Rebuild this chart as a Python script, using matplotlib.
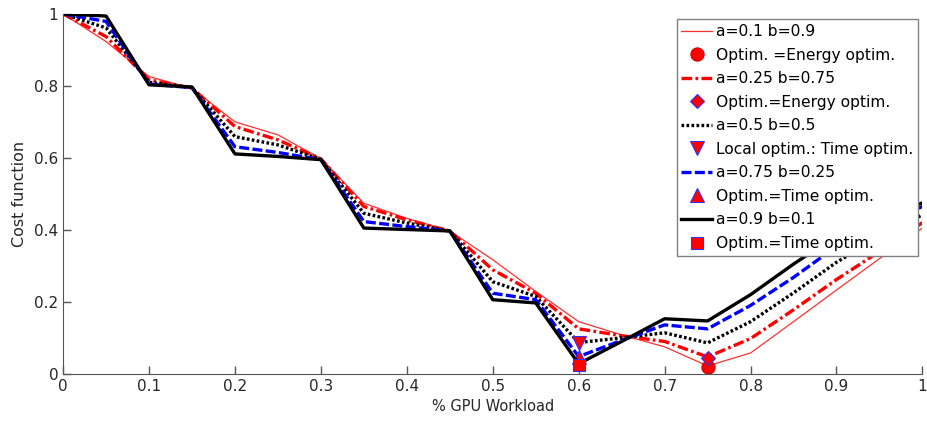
import matplotlib.pyplot as plt
import numpy as np

# GPU workload share (x axis), one point every 0.05
workload = [0.0, 0.05, 0.1, 0.15, 0.2, 0.25, 0.3, 0.35, 0.4, 0.45, 0.5,
            0.55, 0.6, 0.65, 0.7, 0.75, 0.8, 0.85, 0.9, 0.95, 1.0]

# cost function for each (a, b) weighting
cost_a01 = [1.0, 0.923, 0.826, 0.793, 0.700, 0.664, 0.598, 0.474, 0.432, 0.397, 0.317,
            0.229, 0.145, 0.108, 0.075, 0.022, 0.058, 0.145, 0.233, 0.320, 0.405]
cost_a025 = [1.0, 0.937, 0.817, 0.794, 0.687, 0.650, 0.597, 0.465, 0.428, 0.397, 0.289,
             0.224, 0.125, 0.106, 0.090, 0.047, 0.098, 0.178, 0.262, 0.340, 0.420]
cost_a05 = [1.0, 0.961, 0.810, 0.795, 0.659, 0.636, 0.596, 0.446, 0.419, 0.397, 0.256,
            0.215, 0.087, 0.100, 0.114, 0.086, 0.145, 0.225, 0.310, 0.380, 0.442]
cost_a075 = [1.0, 0.979, 0.805, 0.795, 0.631, 0.615, 0.595, 0.423, 0.409, 0.397, 0.224,
             0.206, 0.048, 0.093, 0.136, 0.125, 0.190, 0.268, 0.354, 0.410, 0.465]
cost_a09 = [1.0, 0.994, 0.803, 0.797, 0.611, 0.604, 0.595, 0.405, 0.401, 0.397, 0.206,
            0.197, 0.028, 0.090, 0.153, 0.147, 0.220, 0.305, 0.384, 0.430, 0.475]

# optimum markers (x, cost)
opt_a01 = (0.75, 0.018)
opt_a025 = (0.75, 0.045)
opt_a05 = (0.6, 0.087)
opt_a075 = (0.6, 0.048)
opt_a09 = (0.6, 0.024)

labels = ['a=0.1 b=0.9', 'Optim. =Energy optim.',
          'a=0.25 b=0.75', 'Optim.=Energy optim.',
          'a=0.5 b=0.5', 'Local optim.: Time optim.',
          'a=0.75 b=0.25', 'Optim.=Time optim.',
          'a=0.9 b=0.1', 'Optim.=Time optim.']

plt.rcParams['font.family'] = 'DejaVu Sans'
fig = plt.figure(figsize=(9.28, 4.21), dpi=100)
ax = fig.add_axes([0.068, 0.112, 0.926, 0.855])

lw = 2.4
ax.plot(workload, cost_a01, color='#ff3030', lw=0.9, label=labels[0])
ax.plot(*opt_a01, 'o', ms=9.5, mfc='red', mec='#cc0000', mew=0.8, ls='none', label=labels[1])
ax.plot(workload, cost_a025, color='red', lw=lw, ls=(0, (3.2, 1.0, 0.8, 1.0)), label=labels[2])
ax.plot(*opt_a025, 'D', ms=7, mfc='red', mec='#3030ff', mew=0.8, ls='none', label=labels[3])
ax.plot(workload, cost_a05, color='black', lw=lw, ls=(0, (0.8, 0.7)), label=labels[4])
ax.plot(*opt_a05, 'v', ms=10, mfc='red', mec='#3030ff', mew=0.8, ls='none', label=labels[5])
ax.plot(workload, cost_a075, color='blue', lw=lw, ls=(0, (3.0, 1.0)), label=labels[6])
ax.plot(*opt_a075, '^', ms=10, mfc='red', mec='#3030ff', mew=0.8, ls='none', label=labels[7])
ax.plot(workload, cost_a09, color='black', lw=lw, label=labels[8])
ax.plot(*opt_a09, 's', ms=8, mfc='red', mec='#3030ff', mew=0.8, ls='none', label=labels[9])

ax.set_xlim(0, 1)
ax.set_ylim(0, 1)
ax.set_xticks(np.arange(0, 1.01, 0.1))
ax.set_yticks(np.arange(0, 1.01, 0.2))
ax.set_xticklabels(['0', '0.1', '0.2', '0.3', '0.4', '0.5', '0.6', '0.7', '0.8', '0.9', '1'])
ax.set_yticklabels(['0', '0.2', '0.4', '0.6', '0.8', '1'])
ax.tick_params(direction='in', length=6, width=1, color='#555555', labelsize=11,
               labelcolor='#262626')
ax.spines['top'].set_visible(False)
ax.spines['right'].set_visible(False)
for s in ['left', 'bottom']:
    ax.spines[s].set_color('#555555')
ax.set_xlabel('% GPU Workload', fontsize=10.5, color='#262626', labelpad=4)
ax.set_ylabel('Cost function', fontsize=11.5, color='#262626', labelpad=5)

leg = ax.legend(loc='upper right', bbox_to_anchor=(0.995, 0.985), fontsize=11.2,
                frameon=True, fancybox=False, edgecolor='#808080', framealpha=1,
                handlelength=2.0, handletextpad=0.25, labelspacing=0.55,
                borderpad=0.3, borderaxespad=0)
leg.get_frame().set_linewidth(1.0)

fig.savefig('out.png', dpi=100)
